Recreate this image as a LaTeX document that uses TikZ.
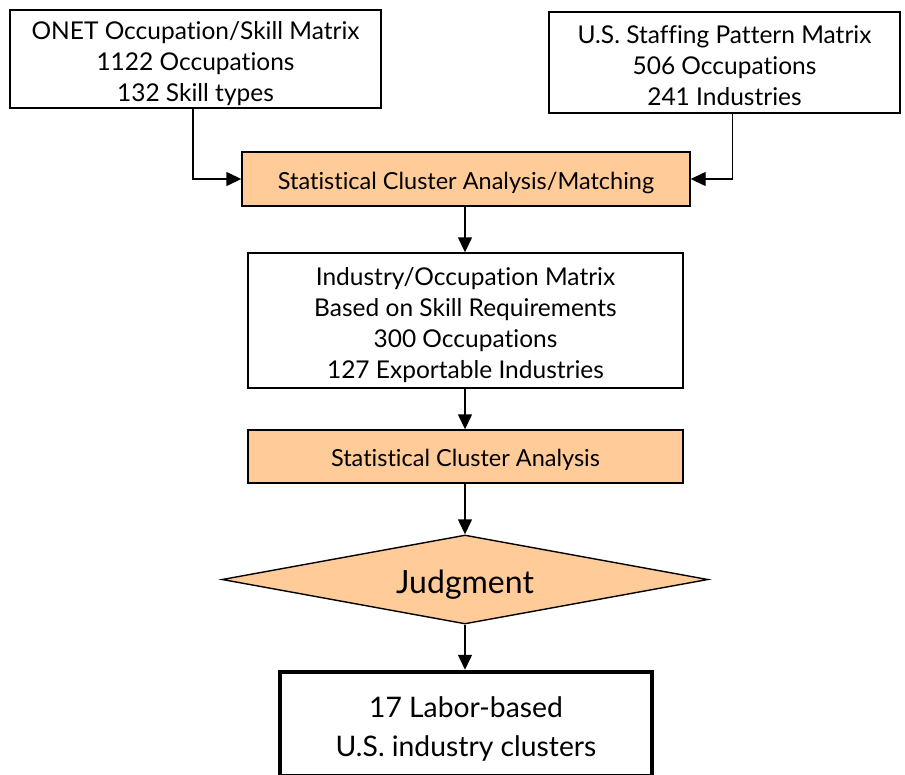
\documentclass[tikz,border=0pt]{standalone}
\usepackage{fontspec}
\setmainfont{Lato}[Ligatures={NoCommon}]
\usetikzlibrary{shapes.geometric,arrows.meta}
\definecolor{stepfill}{HTML}{FFCC99}
\begin{document}
\begin{tikzpicture}[x=1pt,y=-1pt,
  frame/.style={draw=black,line width=1.4pt,inner sep=0pt},
  plaintext/.style={align=center,inner sep=0pt,font=\fontsize{24.5}{31}\selectfont},
  proctext/.style={align=center,inner sep=0pt,font=\fontsize{23.5}{28}\selectfont},
  plainbox/.style={frame,fill=white},
  procbox/.style={frame,fill=stepfill},
  decision/.style={diamond,frame,fill=stepfill,shape aspect=5.46},
  resultbox/.style={draw=black,line width=4.5pt,fill=white,inner sep=0pt},
  link/.style={draw=black,line width=1.4pt,-{Triangle[length=15pt,width=14pt]}}
]
\useasboundingbox (0,0) rectangle (905,774);

% boxes, each with its text set as a centred label
\node[plainbox,minimum width=371pt,minimum height=98pt,
  label={[plaintext,yshift=-4.5pt]center:ONET Occupation/Skill Matrix\\1122 Occupations\\132 Skill types}]
  (onet) at (195.5,59) {};
\node[plainbox,minimum width=351pt,minimum height=101pt,
  label={[plaintext,yshift=-3.5pt]center:U.S. Staffing Pattern Matrix\\506 Occupations\\241 Industries}]
  (staff) at (724.5,62.5) {};
\node[procbox,minimum width=448pt,minimum height=54pt,
  label={[proctext,yshift=-4pt]center:Statistical Cluster Analysis/Matching}]
  (match) at (466,179) {};
\node[plainbox,minimum width=435pt,minimum height=135pt,
  label={[plaintext,yshift=-4.5pt]center:Industry/Occupation Matrix\\Based on Skill Requirements\\300 Occupations\\127 Exportable Industries}]
  (matrix) at (465.5,320.5) {};
\node[procbox,minimum width=435pt,minimum height=53pt,
  label={[proctext,yshift=-3pt]center:Statistical Cluster Analysis}]
  (cluster) at (465.5,456.5) {};
\node[decision,minimum width=486pt,minimum height=89pt,
  label={[inner sep=0pt,font=\fontsize{32}{36}\selectfont,yshift=-5pt]center:Judgment}]
  (judge) at (465,579.5) {};
\node[resultbox,minimum width=372pt,minimum height=104pt,
  label={[align=center,inner sep=0pt,font=\fontsize{28.3}{39}\selectfont,yshift=-5pt]center:17 Labor-based\\U.S. industry clusters}]
  (result) at (466,724) {};

% connectors
\draw[link] ([xshift=-2.5pt]onet.south) |- (match.west);
\draw[link] ([xshift=8pt]staff.south) |- (match.east);
\draw[link] (match.south -| judge.center) -- (matrix.north -| judge.center);
\draw[link] (matrix.south -| judge.center) -- (cluster.north -| judge.center);
\draw[link] (cluster.south -| judge.center) -- (judge.north);
\draw[link] (judge.south) -- (result.north -| judge.center);
\end{tikzpicture}
\end{document}
